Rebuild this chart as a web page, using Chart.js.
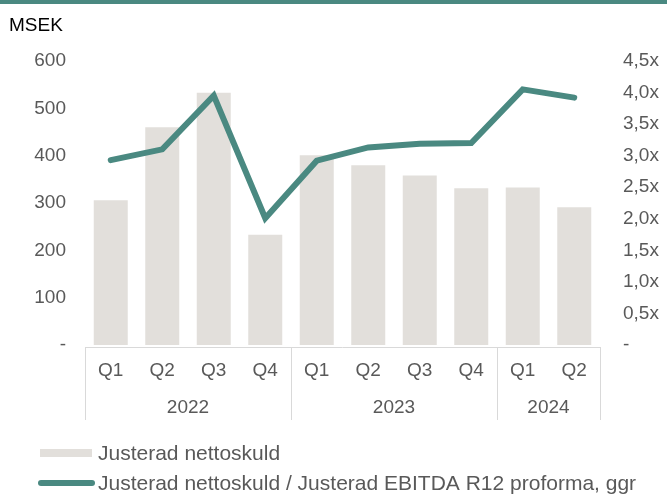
<!DOCTYPE html>
<html>
<head>
<meta charset="utf-8">
<script src="https://cdn.jsdelivr.net/npm/chart.js@4"></script>
<style>
  html, body { margin: 0; padding: 0; background: #fff; }
  #wrap { position: relative; width: 667px; height: 496px; }
</style>
</head>
<body>
<div id="wrap"><canvas id="debtChart"></canvas></div>
<script>
const quarters = ['Q1', 'Q2', 'Q3', 'Q4', 'Q1', 'Q2', 'Q3', 'Q4', 'Q1', 'Q2'];
const years = ['2022', '2023', '2024'];
const quartersPerYear = [4, 4, 2];
const nettoskuld = [306, 460, 533, 233, 401, 380, 358, 331, 333, 291]; // MSEK
const multipel = [2.93, 3.10, 3.95, 2.01, 2.92, 3.13, 3.19, 3.20, 4.05, 3.92]; // ggr

const textColor = '#595959';
const barColor = '#e2dfdb';
const lineColor = '#4a8981';
const boxColor = '#d9d9d9';
const fontFamily = '"Liberation Sans", Arial, sans-serif';

// grupperad x-axel, rubrik och legend ritas här
const extras = {
  id: 'extras',
  afterDraw(chart) {
    const ctx = chart.ctx;
    const x = chart.scales.x;
    const n = quarters.length;
    const step = (x.right - x.left) / n;
    const top = chart.chartArea.bottom + 2;
    const bottom = top + 73;

    ctx.save();
    // linje överst
    ctx.fillStyle = lineColor;
    ctx.fillRect(0, 0, chart.width, 4);

    ctx.fillStyle = '#000';
    ctx.font = '19px ' + fontFamily;
    ctx.textBaseline = 'middle';
    ctx.textAlign = 'left';
    ctx.fillText('MSEK', 9, 26);

    // box runt år
    ctx.strokeStyle = boxColor;
    ctx.lineWidth = 1;
    ctx.beginPath();
    ctx.moveTo(x.left, top + 0.5);
    ctx.lineTo(x.right, top + 0.5);
    let idx = 0;
    const edges = [x.left];
    quartersPerYear.forEach((c) => { idx += c; edges.push(x.left + idx * step); });
    edges.forEach((e) => {
      const px = Math.round(e) + 0.5;
      ctx.moveTo(px, top);
      ctx.lineTo(px, bottom);
    });
    ctx.stroke();

    ctx.fillStyle = textColor;
    ctx.textAlign = 'center';
    years.forEach((y, i) => {
      ctx.fillText(y, (edges[i] + edges[i + 1]) / 2, top + 61);
    });

    // legend
    const lineDs = chart.data.datasets[0];
    const barDs = chart.data.datasets[1];
    ctx.font = '21px ' + fontFamily;
    ctx.textAlign = 'left';
    ctx.fillStyle = barColor;
    ctx.fillRect(40, 449, 52, 8);
    ctx.fillStyle = textColor;
    ctx.fillText(barDs.label, 98, 454);

    ctx.strokeStyle = lineColor;
    ctx.lineWidth = 6;
    ctx.lineCap = 'round';
    ctx.beginPath();
    ctx.moveTo(41, 483);
    ctx.lineTo(92, 483);
    ctx.stroke();
    ctx.fillText(lineDs.label, 98, 484);
    ctx.restore();
  }
};

new Chart(document.getElementById('debtChart'), {
  type: 'bar',
  data: {
    labels: quarters,
    datasets: [
      {
        type: 'line',
        label: 'Justerad nettoskuld / Justerad EBITDA R12 proforma, ggr',
        data: multipel,
        yAxisID: 'y1',
        borderColor: lineColor,
        borderWidth: 6,
        borderCapStyle: 'round',
        pointRadius: 0,
        tension: 0,
        order: 0,
      },
      {
        label: 'Justerad nettoskuld',
        data: nettoskuld,
        yAxisID: 'y',
        backgroundColor: barColor,
        categoryPercentage: 1,
        barPercentage: 0.66,
        order: 1,
      },
    ],
  },
  options: {
    responsive: true,
    maintainAspectRatio: false,
    animation: false,
    layout: { padding: { top: 61, left: 0, right: 0, bottom: 0 } },
    plugins: {
      legend: { display: false },
      tooltip: { enabled: false },
    },
    scales: {
      x: {
        grid: { display: false, drawTicks: false },
        border: { display: false },
        ticks: {
          color: textColor,
          font: { size: 19, family: fontFamily },
          padding: 14,
          maxRotation: 0,
        },
        afterFit: (s) => { s.height = 151; },
      },
      y: {
        position: 'left',
        min: 0,
        max: 600,
        grid: { display: false, drawTicks: false },
        border: { display: false },
        ticks: {
          stepSize: 100,
          color: textColor,
          font: { size: 19, family: fontFamily },
          padding: 19,
          callback: (v) => (v === 0 ? '-' : v),
        },
        afterFit: (s) => { s.width = 85; },
      },
      y1: {
        position: 'right',
        min: 0,
        max: 4.5,
        grid: { display: false, drawTicks: false },
        border: { display: false },
        ticks: {
          stepSize: 0.5,
          color: textColor,
          font: { size: 19, family: fontFamily },
          padding: 23,
          callback: (v) => (v === 0 ? '-' : v.toFixed(1).replace('.', ',') + 'x'),
        },
        afterFit: (s) => { s.width = 67; },
      },
    },
  },
  plugins: [extras],
});
</script>
</body>
</html>
